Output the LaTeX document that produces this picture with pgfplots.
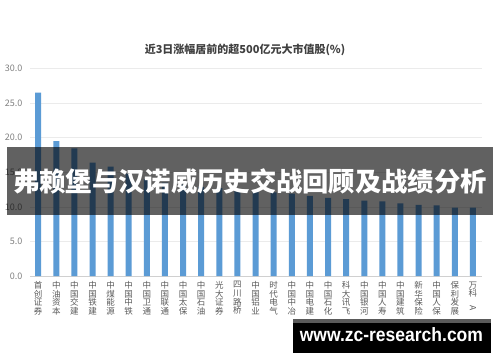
\documentclass[border=0pt]{standalone}
\usepackage{pgfplots}
\pgfplotsset{compat=1.18}
\usepackage{fontspec}
\usepackage{graphicx}
\setmainfont{Liberation Sans}
\newfontfamily\cjk{Noto Sans CJK SC}
\newfontfamily\wm{Liberation Sans}
\definecolor{barblue}{HTML}{5B9BD5}
\definecolor{gridgray}{HTML}{EBEBEB}
\definecolor{basegray}{HTML}{D0D0D0}
\definecolor{ticklab}{HTML}{808080}
\definecolor{catlab}{HTML}{5A5A5A}
\definecolor{titlegray}{HTML}{404040}
\definecolor{stripgray}{HTML}{5A5A5A}
\begin{document}
\begin{tikzpicture}[x=1pt,y=1pt]
\useasboundingbox (0,0) rectangle (500,362);
\fill[white] (0,0) rectangle (500,362);
\begin{axis}[
  at={(30pt,86pt)}, anchor=south west,
  scale only axis, width=452pt, height=207.5pt,
  xmin=-0.45, xmax=24.5, ymin=0, ymax=30,
  axis line style={draw=none},
  major tick length=0pt,
  ytick={0,5,...,30},
  ymajorgrids, grid style={color=gridgray, line width=0.6pt},
  yticklabel style={font=\cjk\fontsize{9}{10}\selectfont, text=ticklab, xshift=-4pt,
    /pgf/number format/.cd, fixed, fixed zerofill, precision=1, assume math mode=true},
  xtick={0,...,24},
  xticklabels={{首\\创\\证\\券},{中\\油\\资\\本},{中\\国\\交\\建},{中\\国\\铁\\建},{中\\煤\\能\\源},
    {中\\国\\中\\铁},{中\\国\\卫\\通},{中\\国\\联\\通},{中\\国\\太\\保},{中\\国\\石\\油},
    {光\\大\\证\\券},{四\\川\\路\\桥},{中\\国\\铝\\业},{时\\代\\电\\气},{中\\国\\中\\冶},
    {中\\国\\电\\建},{中\\国\\石\\化},{科\\大\\讯\\飞},{中\\国\\银\\河},{中\\国\\人\\寿},
    {中\\国\\建\\筑},{新\\华\\保\\险},{中\\国\\人\\保},{保\\利\\发\\展},{万\\科\\\rotatebox{-90}{A}}},
  xticklabel style={font=\cjk\fontsize{8.5}{8.6}\selectfont, text=catlab, align=center,
    text width=1em, anchor=north, yshift=-2pt},
]
\draw[basegray, line width=0.8pt] (axis cs:-0.45,0) -- (axis cs:24.5,0);
\addplot[ybar, bar width=6pt, fill=barblue, draw=none] coordinates {
  (0,26.5) (1,19.5) (2,18.45) (3,16.4) (4,15.8) (5,14.8) (6,14.0) (7,13.5)
  (8,13.2) (9,12.9) (10,12.7) (11,12.5) (12,12.3) (13,12.1) (14,11.9)
  (15,11.6) (16,11.3) (17,11.1) (18,10.9) (19,10.8) (20,10.5) (21,10.3)
  (22,10.2) (23,9.9) (24,9.9)
};
\end{axis}
% chart title
\node[font=\cjk\bfseries\fontsize{11}{13}\selectfont, text=titlegray] at (245,312)
  {近3日涨幅居前的超500亿元大市值股(\%)};
% headline banner
\fill[black, opacity=0.62] (7,147) rectangle (493,215);
\node[text=white, font=\cjk\bfseries\fontsize{26.3}{30}\selectfont] at (250,181)
  {弗赖堡与汉诺威历史交战回顾及战绩分析};
% site tag
\fill[stripgray] (293,39) rectangle (491,43);
\fill[black] (293,9.3) rectangle (491,39);
\node[text=white, font=\wm\bfseries\fontsize{17.5}{20}\selectfont, anchor=base, inner sep=0pt]
  at (391.4,20.3) {\scalebox{1}[1.1]{www.zc-research.com}};
\end{tikzpicture}
\end{document}
